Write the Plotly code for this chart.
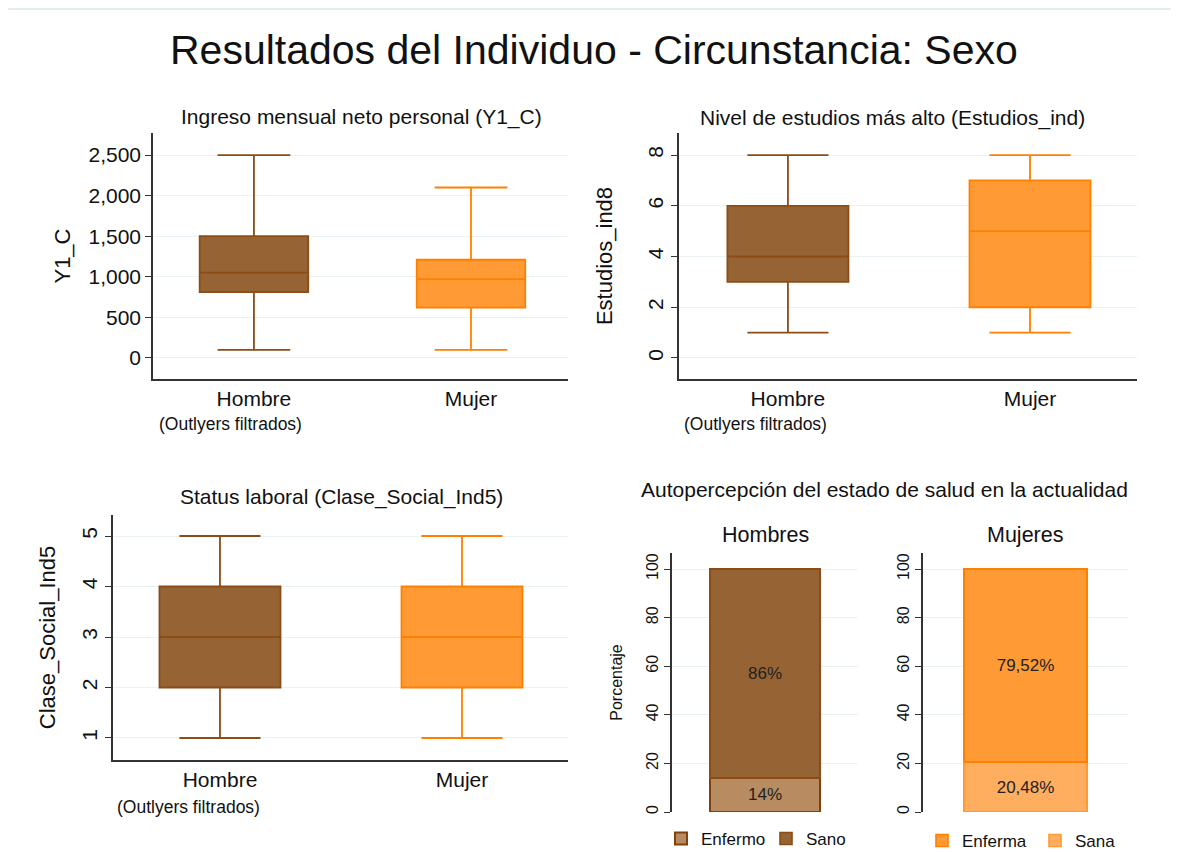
import plotly.graph_objects as go

# ---------------- Data ----------------
box_categories = ["Hombre", "Mujer"]

ingreso_low = [100, 100]
ingreso_q1 = [810, 620]
ingreso_median = [1050, 970]
ingreso_q3 = [1500, 1210]
ingreso_high = [2500, 2100]

estudios_low = [1, 1]
estudios_q1 = [3, 2]
estudios_median = [4, 5]
estudios_q3 = [6, 7]
estudios_high = [8, 8]

clase_low = [1, 1]
clase_q1 = [2, 2]
clase_median = [3, 3]
clase_q3 = [4, 4]
clase_high = [5, 5]

hombres_series = ["Enfermo", "Sano"]          # bottom -> top
hombres_pct = [14, 86]
hombres_labels = ["14%", "86%"]

mujeres_series = ["Sana", "Enferma"]          # bottom -> top (as coloured in the original)
mujeres_pct = [20.48, 79.52]
mujeres_labels = ["20,48%", "79,52%"]

ingreso_ticks = [0, 500, 1000, 1500, 2000, 2500]
estudios_ticks = [0, 2, 4, 6, 8]
clase_ticks = [1, 2, 3, 4, 5]
pct_ticks = [0, 20, 40, 60, 80, 100]

# ---------------- Styles ----------------
OFF = 8                      # page body margin
W, H = 1179 - OFF, 852 - OFF
FONT = "Arial, Liberation Sans, sans-serif"
TXT = "#111111"
AXIS = "#333333"
GRID = "#EAF2F3"

BROWN_FILL = "#966434"
BROWN_LINE = "#8B4C17"
ORANGE_FILL = "#FF9A35"
ORANGE_LINE = "#FF8000"
box_fills = [BROWN_FILL, ORANGE_FILL]
box_lines = [BROWN_LINE, ORANGE_LINE]

hombres_fills = ["#B88C60", BROWN_FILL]
hombres_lines = ["#7E420E", "#8B4C17"]
mujeres_fills = ["#FFAE60", ORANGE_FILL]
mujeres_lines = ["#FF9A35", ORANGE_LINE]


def px_x(p):
    return max(0.0, (p - OFF) / W)


def px_y(p):
    return min(1.0, 1 - (p - OFF) / H)


fig = go.Figure()


def add_boxes(xa, ya, low, q1, med, q3, high):
    for i, cat in enumerate(box_categories):
        fig.add_trace(go.Box(
            x=[cat], lowerfence=[low[i]], q1=[q1[i]], median=[med[i]],
            q3=[q3[i]], upperfence=[high[i]],
            fillcolor=box_fills[i], line=dict(color=box_lines[i], width=1.8),
            width=0.5, whiskerwidth=0.67, boxpoints=False,
            xaxis=xa, yaxis=ya, showlegend=False, hoverinfo="skip",
        ))


add_boxes("x", "y", ingreso_low, ingreso_q1, ingreso_median, ingreso_q3, ingreso_high)
add_boxes("x2", "y2", estudios_low, estudios_q1, estudios_median, estudios_q3, estudios_high)
add_boxes("x3", "y3", clase_low, clase_q1, clase_median, clase_q3, clase_high)

for i, name in enumerate(hombres_series):
    fig.add_trace(go.Bar(
        x=["Hombres"], y=[hombres_pct[i]], name=name, width=1,
        marker=dict(color=hombres_fills[i], line=dict(color=hombres_lines[i], width=2 if i == 0 else 1.6)),
        text=[hombres_labels[i]], textposition="inside", insidetextanchor="middle",
        textangle=0, textfont=dict(size=17, color="#222222", family=FONT),
        xaxis="x4", yaxis="y4", legend="legend", hoverinfo="skip",
    ))

for i, name in enumerate(mujeres_series):
    fig.add_trace(go.Bar(
        x=["Mujeres"], y=[mujeres_pct[i]], name=name, width=1,
        marker=dict(color=mujeres_fills[i], line=dict(color=mujeres_lines[i], width=1.6)),
        text=[mujeres_labels[i]], textposition="inside", insidetextanchor="middle",
        textangle=0, textfont=dict(size=17, color="#222222", family=FONT),
        xaxis="x5", yaxis="y5", legend="legend2", hoverinfo="skip",
    ))


def yaxis(domain, rng, ticks, anchor, title, angle, size=21, tsize=22, fmt=None, standoff=None):
    d = dict(
        domain=domain, range=rng, tickvals=ticks, anchor=anchor,
        showline=True, linecolor=AXIS, linewidth=1.5,
        ticks="outside", ticklen=6, tickwidth=1.2, tickcolor=AXIS,
        showgrid=True, gridcolor=GRID, gridwidth=1.2, zeroline=False,
        tickangle=angle, tickfont=dict(size=size, color=TXT, family=FONT),
        title=dict(text=title, font=dict(size=tsize, color=TXT, family=FONT)),
        fixedrange=True, automargin=False,
    )
    if fmt:
        d["tickformat"] = fmt
    if standoff is not None:
        d["title"]["standoff"] = standoff
    return d


def xbox(domain, rng, anchor):
    return dict(
        domain=domain, range=rng, anchor=anchor, type="category",
        showline=True, linecolor=AXIS, linewidth=1.5, ticks="",
        showgrid=False, zeroline=False, automargin=False,
        tickfont=dict(size=21, color=TXT, family=FONT), fixedrange=True,
    )


def xbar(domain, rng, anchor):
    return dict(
        domain=domain, range=rng, anchor=anchor, type="category",
        showline=False, showticklabels=False, ticks="", showgrid=False,
        zeroline=False, fixedrange=True, automargin=False,
    )


top_y = [px_y(379), px_y(133)]
bot_y = [px_y(760), px_y(515)]
bar_y = [px_y(812), px_y(553)]

fig.update_layout(
    width=W, height=H,
    margin=dict(l=0, r=0, t=0, b=0, autoexpand=False),
    paper_bgcolor="white", plot_bgcolor="white",
    font=dict(family=FONT, color=TXT),
    barmode="stack",
    xaxis=xbox([px_x(153), px_x(568)], [-0.465, 1.447], "y"),
    yaxis=yaxis(top_y, [-260, 2772], ingreso_ticks, "x", "Y1_C", 0, fmt=",", standoff=12),
    xaxis2=xbox([px_x(679), px_x(1137)], [-0.45, 1.442], "y2"),
    yaxis2=yaxis(top_y, [-0.83, 8.87], estudios_ticks, "x2", "Estudios_ind8", -90, standoff=25),
    xaxis3=xbox([px_x(113), px_x(568)], [-0.442, 1.438], "y3"),
    yaxis3=yaxis(bot_y, [0.564, 5.416], clase_ticks, "x3", "Clase_Social_Ind5", -90, standoff=16),
    xaxis4=xbar([px_x(672), px_x(858)], [-0.845, 0.845], "y4"),
    yaxis4=yaxis(bar_y, [0, 106.6], pct_ticks, "x4", "Porcentaje", -90, size=16, tsize=16, standoff=17),
    xaxis5=xbar([px_x(923), px_x(1128)], [-0.833, 0.833], "y5"),
    yaxis5=yaxis(bar_y, [0, 106.6], pct_ticks, "x5", "", -90, size=16, tsize=16),
    legend=dict(
        orientation="h", x=px_x(661), y=px_y(839), xanchor="left", yanchor="middle",
        font=dict(size=17, color=TXT, family=FONT), bgcolor="rgba(0,0,0,0)",
        traceorder="normal", entrywidth=60, entrywidthmode="pixels",
    ),
    legend2=dict(
        orientation="h", x=px_x(922), y=px_y(841), xanchor="left", yanchor="middle",
        font=dict(size=17, color=TXT, family=FONT), bgcolor="rgba(0,0,0,0)",
        traceorder="reversed", entrywidth=68, entrywidthmode="pixels",
    ),
    showlegend=True,
)

annots = [
    ("Resultados del Individuo - Circunstancia: Sexo", 594, 50, 41),
    ("Ingreso mensual neto personal (Y1_C)", 361, 117, 21),
    ("Nivel de estudios más alto (Estudios_ind)", 892, 118, 21),
    ("Status laboral (Clase_Social_Ind5)", 341, 497, 21),
    ("Autopercepción del estado de salud en la actualidad", 884, 490, 21),
    ("Hombres", 765, 535, 21.5),
    ("Mujeres", 1025, 535, 21.5),
    ("(Outlyers filtrados)", 230, 424, 17.5),
    ("(Outlyers filtrados)", 755, 424, 17.5),
    ("(Outlyers filtrados)", 188, 807, 17.5),
]
for text, x, y, s in annots:
    fig.add_annotation(
        text=text, x=px_x(x), y=px_y(y), xref="paper", yref="paper",
        xanchor="center", yanchor="middle", showarrow=False,
        font=dict(size=s, color=TXT, family=FONT),
    )

fig.add_shape(type="line", xref="paper", yref="paper",
              x0=px_x(6), x1=1, y0=px_y(9), y1=px_y(9),
              line=dict(color="#E4EDEF", width=2))

fig.write_html("out.html")
